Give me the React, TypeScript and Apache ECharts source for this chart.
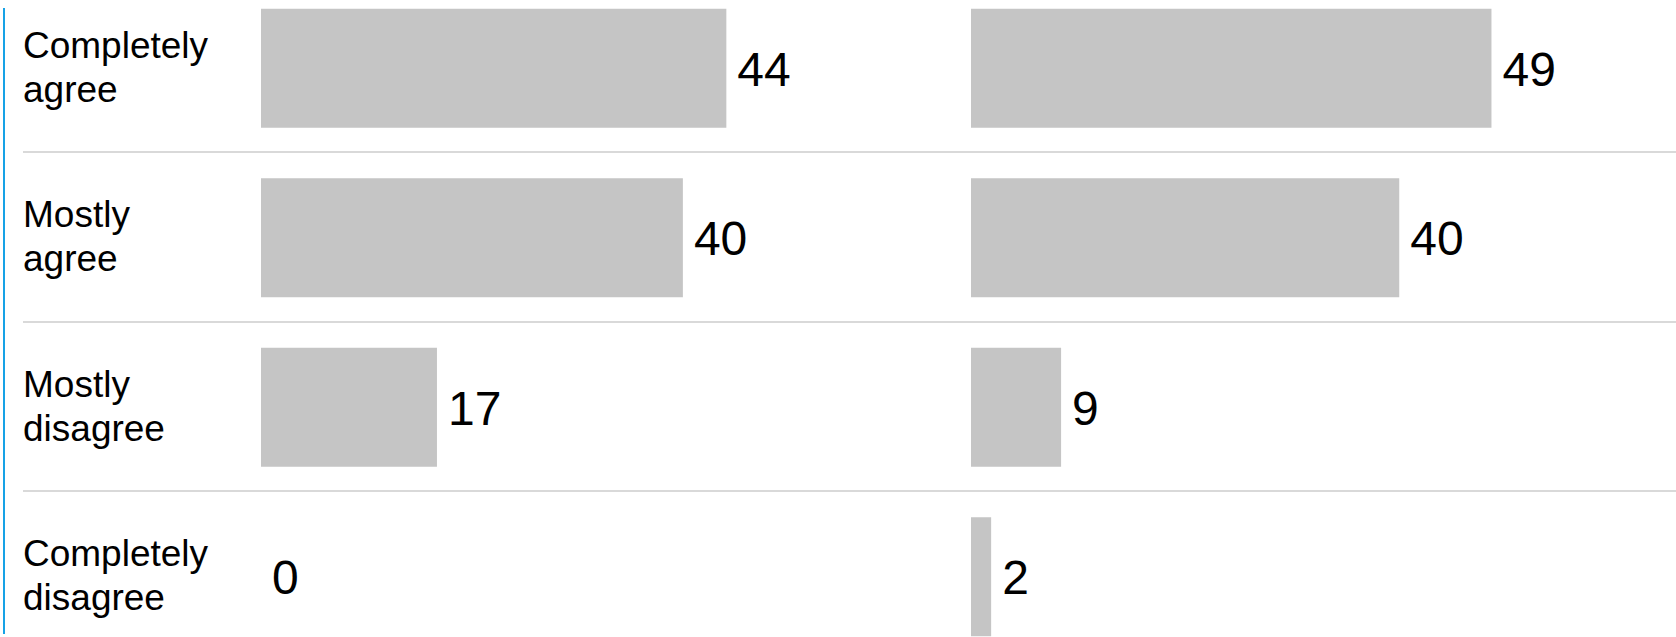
import React, { useEffect, useRef } from "react";
import * as echarts from "echarts";

const categories = [
  "Completely\nagree",
  "Mostly\nagree",
  "Mostly\ndisagree",
  "Completely\ndisagree",
];
// underlying (unrounded) shares, labels show rounded values
const leftValues = [43.9, 39.8, 16.6, 0];
const rightValues = [49.1, 40.4, 8.5, 1.9];
const axisMax = 60;

const FONT = '"Liberation Sans", Arial, Helvetica, sans-serif';

export default function App() {
  const ref = useRef<HTMLDivElement>(null);

  useEffect(() => {
    const chart = echarts.init(ref.current as HTMLDivElement, null, {
      renderer: "svg",
    });
    const top = -16.5;
    const height = 678;

    const hiddenCat = (gridIndex: number) => ({
      type: "category",
      gridIndex,
      data: categories,
      inverse: true,
      axisLine: { show: false },
      axisTick: { show: false },
      axisLabel: { show: false },
      splitLine: { show: false },
    });

    const barSeries = (idx: number, data: number[]) => ({
      type: "bar",
      xAxisIndex: idx,
      yAxisIndex: idx,
      data,
      barWidth: 119,
      itemStyle: { color: "#c5c5c5" },
      label: {
        show: true,
        position: "right",
        distance: 11,
        offset: [0, 1],
        formatter: (p: any) => String(Math.round(p.value)),
        fontSize: 48,
        color: "#000",
        fontFamily: FONT,
      },
    });

    const option: any = {
      animation: false,
      grid: [
        { left: 23, right: 0, top: top - 1, height, containLabel: false, outerBoundsMode: "none" },
        { left: 261, width: 636, top, height, containLabel: false, outerBoundsMode: "none" },
        { left: 971, width: 636, top, height, containLabel: false, outerBoundsMode: "none" },
      ],
      xAxis: [0, 1, 2].map((i) => ({
        type: "value",
        gridIndex: i,
        min: 0,
        max: axisMax,
        show: false,
      })),
      yAxis: [
        {
          type: "category",
          gridIndex: 0,
          data: categories,
          inverse: true,
          axisLine: { show: false },
          axisTick: { show: false },
          axisLabel: {
            show: true,
            inside: true,
            margin: 0,
            interval: 0,
            fontSize: 37,
            lineHeight: 44,
            padding: [6, 0, 0, 0],
            color: "#000",
            fontFamily: FONT,
            align: "left",
          },
          splitLine: {
            show: true,
            interval: 0,
            lineStyle: { color: "#d9d9d9", width: 2 },
          },
        },
        hiddenCat(1),
        hiddenCat(2),
      ],
      graphic: [
        {
          type: "line",
          shape: { x1: 4, y1: 8, x2: 4, y2: 634 },
          style: { stroke: "#16a2e6", lineWidth: 2 },
        },
      ],
      series: [barSeries(1, leftValues), barSeries(2, rightValues)],
    };
    chart.setOption(option);
    return () => chart.dispose();
  }, []);

  return (
    <div
      ref={ref}
      style={{
        position: "absolute",
        left: 0,
        top: 0,
        width: 1676,
        height: 637,
        background: "#fff",
      }}
    />
  );
}
